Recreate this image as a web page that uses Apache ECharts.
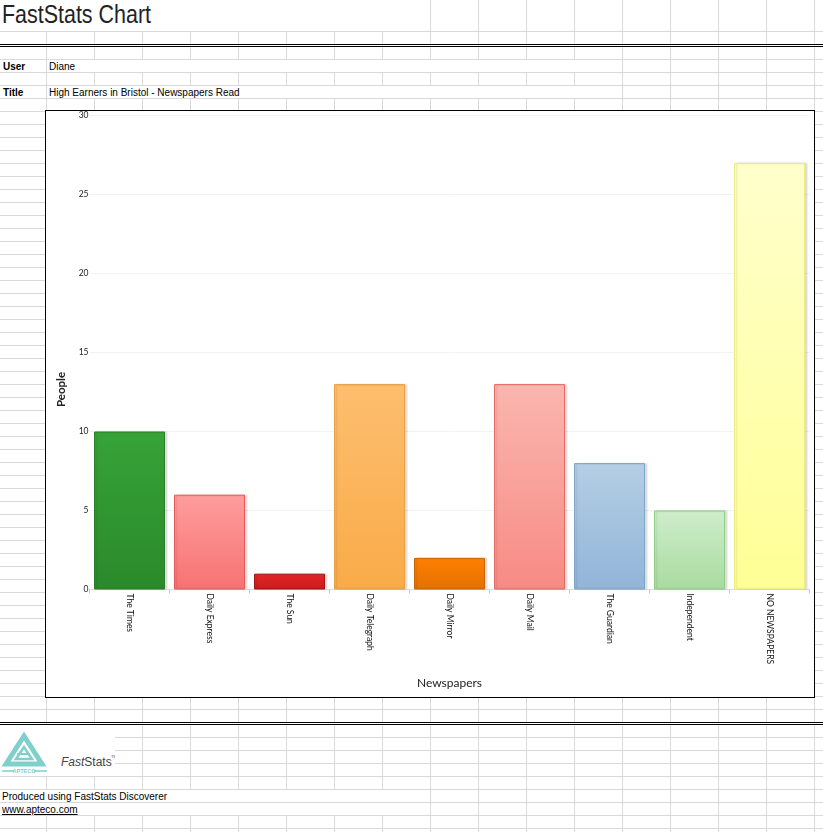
<!DOCTYPE html>
<html><head><meta charset="utf-8">
<script src="https://cdn.jsdelivr.net/npm/echarts@6/dist/echarts.min.js"></script>
<style>
html,body{margin:0;padding:0;background:#fff;width:823px;height:832px;overflow:hidden;}
#page{position:relative;width:823px;height:832px;}
.ln{position:absolute;}
.t{position:absolute;font-family:"Liberation Sans",Arial,sans-serif;font-size:10px;line-height:10px;color:#000;white-space:nowrap;}
#box{position:absolute;left:45px;top:110px;width:770px;height:588px;border:1px solid #000;box-sizing:border-box;background:#fff;}
#chart{position:absolute;left:46px;top:111px;width:768px;height:586px;}
</style></head><body><div id="page"></div>
<script>
// ---- data ----
const categories = ['The Times','Daily Express','The Sun','Daily Telegraph','Daily Mirror','Daily Mail','The Guardian','Independent','NO NEWSPAPERS'];
const people = [10, 6, 1, 13, 2, 13, 8, 5, 27];
const yMin = 0, yMax = 30, yStep = 5;
const userName = 'Diane';
const chartTitle = 'High Earners in Bristol - Newspapers Read';

// ---- styles (per bar) ----
const barTop =    ['#37a337','#ff9d9d','#e22626','#fdbe6f','#ff8000','#fab6af','#b5cee4','#cfedcb','#ffffcc'];
const barBottom = ['#2a8a2a','#f77272','#cb1b1b','#f9ab48','#e37100','#f78b84','#91b5d8','#a8dc9f','#ffff96'];
const barBorder = ['#2b7d2b','#e25a5a','#a51414','#e9a140','#c96400','#e46b65','#7fa4c9','#90cd85','#eded7c'];

// ---- spreadsheet background ----
const page = document.getElementById('page');
function rect(x,y,w,h,c){const d=document.createElement('div');d.className='ln';d.style.cssText=`left:${x}px;top:${y}px;width:${w}px;height:${h}px;background:${c}`;page.appendChild(d);return d;}
function text(x,baseline,str,extra){const d=document.createElement('div');d.className='t';d.style.left=x+'px';d.style.top=(baseline-8.5)+'px';if(extra)d.style.cssText+=extra;d.textContent=str;page.appendChild(d);return d;}
const G='#d9d9d9';
for(let k=0;k<=16;k++){rect(46+48*k,0,1,832,G);}
rect(0,0,430,31,'#fff');
rect(47,60,575,12,'#fff');
rect(47,86,575,12,'#fff');
rect(0,790,430,25,'#fff');
const hy=[31,59,72,85,98];
for(let y=111;y<=709;y+=13) hy.push(y);
for(let y=737;y<=828;y+=13) hy.push(y);
hy.forEach(y=>rect(0,y,823,1,G));
rect(0,44,823,1,'#000');rect(0,46,823,1,'#000');
rect(0,722,823,1,'#000');rect(0,724,823,1,'#000');

// header texts
const ttl=document.createElement('div');ttl.className='t';
ttl.style.cssText+='left:2px;top:1px;font-size:26px;line-height:26px;color:#222;transform:scaleX(0.825);transform-origin:0 0;';
ttl.textContent='FastStats Chart';page.appendChild(ttl);
text(3,70,'User','font-weight:bold;');
text(49,70,userName);
text(3,96,'Title','font-weight:bold;');
text(49,96,chartTitle);
text(2,800.5,'Produced using FastStats Discoverer');
text(2,813,'www.apteco.com','text-decoration:underline;');

// logo
const logo=document.createElement('div');
logo.style.cssText='position:absolute;left:0;top:725px;width:115px;height:51px;background:#fff;';
logo.innerHTML=`<svg width="115" height="51" xmlns="http://www.w3.org/2000/svg">
<g fill="none" stroke="#7fd0cc" stroke-linejoin="miter">
<polygon points="24,11 6,39 42,39" stroke-width="5"/>
<polygon points="24,22 16,34 32,34" stroke-width="2.5"/>
<line x1="17" y1="29" x2="30" y2="29" stroke-width="2"/>
<line x1="2" y1="46" x2="14" y2="46" stroke-width="1.5"/>
<line x1="34" y1="46" x2="47" y2="46" stroke-width="1.5"/>
</g>
<text x="24" y="48" text-anchor="middle" font-family="Liberation Sans,Arial" font-size="5.5" font-weight="bold" fill="#7fd0cc">APTECO</text>
<text x="61" y="41" font-family="Liberation Sans,Arial" font-size="12" fill="#444"><tspan font-style="italic">Fast</tspan>Stats</text>
<text x="111" y="33" font-family="Liberation Sans,Arial" font-size="4" fill="#444">TM</text>
</svg>`;
page.appendChild(logo);

// chart box
const box=document.createElement('div');box.id='box';page.appendChild(box);
const cd=document.createElement('div');cd.id='chart';page.appendChild(cd);

const chart = echarts.init(cd, null, {renderer:'canvas'});
const FONT = 'Lato, "Noto Sans", sans-serif';
chart.setOption({
  animation:false,
  grid:{left:43.5, right:4.5, top:4.5, bottom:107.5, containLabel:false},
  xAxis:{
    type:'category', data:categories,
    axisLine:{show:true, lineStyle:{color:'#dddddd', width:1}},
    axisTick:{show:true, length:4, lineStyle:{color:'#c8c8c8'}},
    axisLabel:{rotate:-90, fontSize:8.5, color:'#111', margin:4, fontFamily:FONT, interval:0},
    name:'Newspapers', nameLocation:'middle', nameGap:88,
    nameTextStyle:{fontSize:12, color:'#222', fontFamily:FONT}
  },
  yAxis:{
    type:'value', min:yMin, max:yMax, interval:yStep,
    axisLine:{show:false}, axisTick:{show:false},
    axisLabel:{fontSize:8.5, color:'#222', margin:1, fontFamily:FONT},
    splitLine:{lineStyle:{color:'#f2f2f2'}},
    name:'People', nameLocation:'middle', nameGap:20,
    nameTextStyle:{fontSize:11.5, color:'#222', fontFamily:FONT, fontWeight:'bold', padding:[0,74,0,0]}
  },
  series:[{
    type:'bar', barWidth:71,
    data: people.map((v,i)=>({
      value:v,
      itemStyle:{
        color:new echarts.graphic.LinearGradient(0,0,0,1,[{offset:0,color:barTop[i]},{offset:1,color:barBottom[i]}]),
        borderColor:barBorder[i], borderWidth:1,
        shadowColor:'rgba(0,0,0,0.12)', shadowBlur:2, shadowOffsetX:2, shadowOffsetY:0
      }
    }))
  }]
});
</script>
</body></html>
